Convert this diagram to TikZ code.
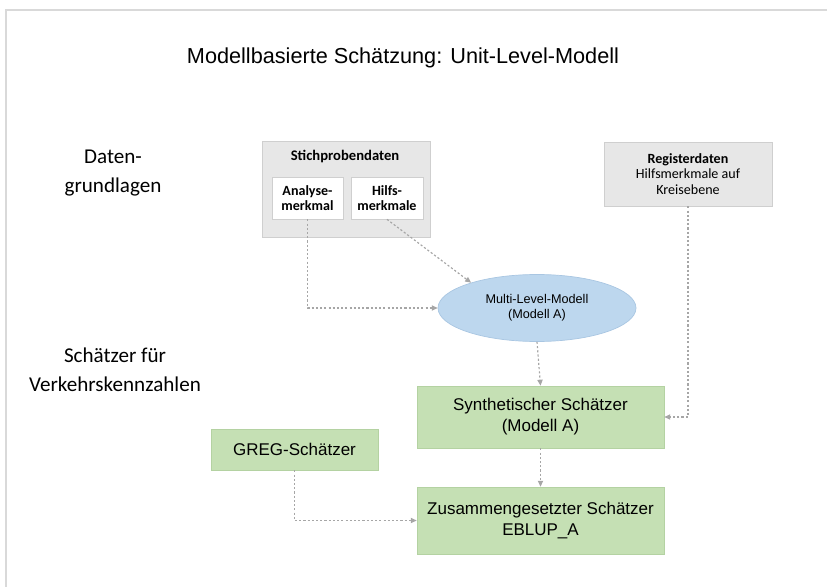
\documentclass[tikz,border=0pt]{standalone}
\usepackage{fontspec}
\setmainfont{Liberation Sans}
\newfontfamily\calib{Carlito}
\usetikzlibrary{arrows.meta}
\usetikzlibrary{shapes.geometric}
\definecolor{framegray}{HTML}{D9D9D9}
\definecolor{boxgray}{HTML}{E7E7E7}
\definecolor{boxline}{HTML}{CFCFCF}
\definecolor{greenfill}{HTML}{C5E0B4}
\definecolor{greenline}{HTML}{B4D2A2}
\definecolor{bluefill}{HTML}{BDD7EE}
\definecolor{blueline}{HTML}{A9C6E2}
\definecolor{linkgray}{HTML}{A6A6A6}
\tikzset{
 graybox/.style={draw=boxline, fill=boxgray, line width=0.6pt},
 whitebox/.style={draw=boxline, fill=white, line width=0.6pt, align=center,
   font=\calib\bfseries\fontsize{12}{13}\selectfont},
 greenbox/.style={draw=greenline, fill=greenfill, line width=0.6pt, align=center,
   font=\fontsize{14.5}{18}\selectfont},
 sidelabel/.style={align=center, font=\calib\fontsize{18}{25}\selectfont},
 link/.style={draw=linkgray, line width=1pt, dash pattern=on 1.8pt off 1.8pt,
   -{Triangle[length=5pt,width=4.5pt]}},
}

\begin{document}
\begin{tikzpicture}[x=0.03cm, y=-0.03cm]
        \useasboundingbox (0,0) rectangle (827,587);
        % frame
        \draw[framegray, line width=2.5pt] (6,587) -- (6,10) -- (827,10);

        \node (title) at (403,58) {\fontsize{18.5}{22}\selectfont Modellbasierte Schätzung: Unit-Level-Modell};
        \node[sidelabel] (daten) at (113,173) {Daten-\\grundlagen};
        \node[sidelabel] (schaetzer) at (115,370) {Schätzer für\\Verkehrskennzahlen};

        % Datengrundlagen
        \node[graybox, minimum width=5.04cm, minimum height=2.88cm] (stich) at (346,189) {};
        \node[font=\calib\bfseries\fontsize{12.5}{13}\selectfont] (stichlabel) at (345,157) {Stichprobendaten};
        \node[whitebox, minimum width=2.13cm, minimum height=1.26cm] (ana) at (307.5,198) {Analyse-\\merkmal};
        \node[whitebox, minimum width=2.16cm, minimum height=1.26cm] (hilf) at (387,198) {Hilfs-\\merkmale};
        \node[graybox, minimum width=5.04cm, minimum height=1.92cm, align=center,
              font=\calib\fontsize{12}{13.5}\selectfont] (reg) at (688,174)
              {\textbf{Registerdaten}\\Hilfsmerkmale auf\\Kreisebene};

        % Modell
        \node[ellipse, draw=blueline, fill=bluefill, line width=0.6pt, minimum width=5.94cm,
              minimum height=2.01cm, align=center, font=\fontsize{10.8}{13}\selectfont]
              (ell) at (537,308) {Multi-Level-Modell\\(Modell A)};

        % Schaetzer
        \node[greenbox, minimum width=7.41cm, minimum height=1.86cm] (syn) at (540.5,417) {Synthetischer Schätzer\\(Modell A)};
        \node[greenbox, minimum width=7.41cm, minimum height=2.01cm] (zus) at (540.5,520.5) {Zusammengesetzter Schätzer\\EBLUP\_A};
        \node[greenbox, minimum width=5.01cm, minimum height=1.23cm] (greg) at (294.5,449.5) {GREG-Schätzer};

        % links
        \draw[link] (ana.south) |- (ell.west);
        \draw[link] (hilf.south) -- (ell.159);
        \draw[link] (reg.south) |- (syn.east);
        \draw[link] (ell.south) -- (syn.north);
        \draw[link] (syn.south) -- (zus.north);
        \draw[link] (greg.south) |- (zus.west);
    \end{tikzpicture}
\end{document}
